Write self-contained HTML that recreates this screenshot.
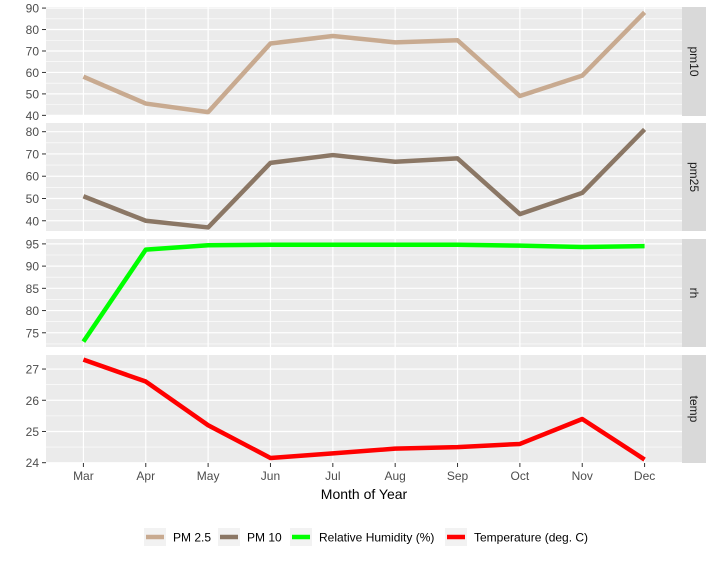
<!DOCTYPE html>
<html><head><meta charset="utf-8"><style>
body{margin:0;background:#fff;}
svg{display:block;font-family:"Liberation Sans",Arial,sans-serif;}
</style></head><body>
<svg id="c" width="714" height="562" viewBox="0 0 714 562"></svg>
<script>
const months=["Mar","Apr","May","Jun","Jul","Aug","Sep","Oct","Nov","Dec"];
const pm10=[58,45.5,41.5,73.5,77,74,75,49,58.5,88];
const pm25=[51,40,37,66,69.5,66.5,68,43,52.5,81];
const rh=[73,93.7,94.7,94.8,94.8,94.8,94.8,94.6,94.3,94.5];
const temp=[27.3,26.6,25.2,24.15,24.3,24.45,24.5,24.6,25.4,24.1];
const pm10Ticks=[40,50,60,70,80,90];
const pm25Ticks=[40,50,60,70,80];
const rhTicks=[75,80,85,90,95];
const tempTicks=[24,25,26,27];
const legendLabels=["PM 2.5","PM 10","Relative Humidity (%)","Temperature (deg. C)"];

const NS="http://www.w3.org/2000/svg";
const svg=document.getElementById('c');
function mk(t,a,p){const e=document.createElementNS(NS,t);for(const k in a)e.setAttribute(k,a[k]);(p||svg).appendChild(e);return e;}
const X0=46,X1=682;
const step=(X1-X0)/(months.length-1+1.2);
const xs=i=>X0+(0.6+i)*step;
const panels=[
 {name:"pm10",data:pm10,ticks:pm10Ticks,top:7,bot:116,ymin:39.7,ymax:90.5,color:"#C8AA90"},
 {name:"pm25",data:pm25,ticks:pm25Ticks,top:123,bot:231,ymin:35.4,ymax:83.9,color:"#8B7765"},
 {name:"rh",data:rh,ticks:rhTicks,top:239,bot:347,ymin:71.8,ymax:96.1,color:"#00FF00"},
 {name:"temp",data:temp,ticks:tempTicks,top:355,bot:463,ymin:23.99,ymax:27.45,color:"#FF0000"}
];
panels.forEach(p=>{
 const g=mk('g',{});
 
 
 const y=v=>p.bot-(v-p.ymin)/(p.ymax-p.ymin)*(p.bot-p.top);
 mk('rect',{x:X0,y:p.top,width:X1-X0,height:p.bot-p.top,fill:"#EBEBEB"},g);
 // minor grid
 const d=p.ticks[1]-p.ticks[0];
 const minors=[p.ticks[0]-d/2].concat(p.ticks.map(t=>t+d/2));
 minors.forEach(v=>{const yy=y(v);if(yy>p.top&&yy<p.bot)mk('line',{x1:X0,x2:X1,y1:yy,y2:yy,stroke:"#fff","stroke-width":0.6},g);});
 p.ticks.forEach(v=>{const yy=y(v);
  mk('line',{x1:X0,x2:X1,y1:yy,y2:yy,stroke:"#fff","stroke-width":1.2},g);
  mk('line',{x1:42,x2:X0,y1:yy,y2:yy,stroke:"#333","stroke-width":1},g);
  const t=mk('text',{x:39,y:yy+4.5,"text-anchor":"end","font-size":12,fill:"#4D4D4D"},g);t.textContent=v;
  
  
 });
 months.forEach((m,i)=>mk('line',{x1:xs(i),x2:xs(i),y1:p.top,y2:p.bot,stroke:"#fff","stroke-width":1.2},g));
 const pl=mk('polyline',{points:p.data.map((v,i)=>xs(i)+","+y(v)).join(" "),fill:"none",stroke:p.color,"stroke-width":4.5,"stroke-linejoin":"round"},g);
 
 
 mk('rect',{x:X1,y:p.top,width:24,height:p.bot-p.top,fill:"#D9D9D9"},g);
 const cy=(p.top+p.bot)/2;
 const st=mk('text',{x:X1+12,y:cy,"font-size":12,fill:"#1A1A1A","text-anchor":"middle","dominant-baseline":"central",transform:`rotate(90 ${X1+12} ${cy})`},g);
 st.textContent=p.name;
 
 
});
months.forEach((m,i)=>{
 mk('line',{x1:xs(i),x2:xs(i),y1:463,y2:467,stroke:"#333"});
 const t=mk('text',{x:xs(i),y:480,"text-anchor":"middle","font-size":12,fill:"#4D4D4D"});t.textContent=m;
 
 
});
const xt=mk('text',{x:364,y:499,"text-anchor":"middle","font-size":14,fill:"#000"});xt.textContent="Month of Year";


const keyX=[144,218,290,445];
const cols=["#C8AA90","#8B7765","#00FF00","#FF0000"];
legendLabels.forEach((l,i)=>{
 const g=mk('g',{});
 
 
 mk('rect',{x:keyX[i],y:528,width:22,height:18,fill:"#F2F2F2"},g);
 mk('line',{x1:keyX[i]+2,x2:keyX[i]+20,y1:537,y2:537,stroke:cols[i],"stroke-width":4.5},g);
 const t=mk('text',{x:keyX[i]+29,y:541.5,"font-size":12,fill:"#000"},g);t.textContent=l;
});
</script>
</body></html>
